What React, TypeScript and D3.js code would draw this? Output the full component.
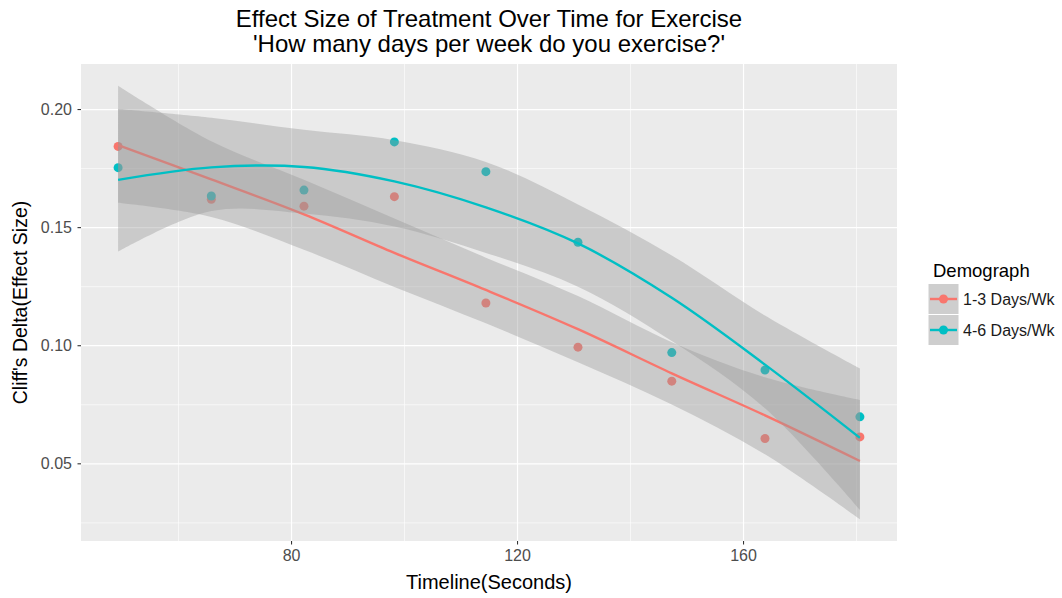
import React from 'react';
import * as d3 from 'd3';

// values
const timeline = [49.3, 65.8, 82.2, 98.2, 114.4, 130.7, 147.3, 163.8, 180.6];
const groups = ['1-3 Days/Wk', '4-6 Days/Wk'];
const groupColors = ['#F8766D', '#00BFC4'];

const pointsLow = [0.1844, 0.162, 0.1591, 0.1631, 0.1181, 0.0994, 0.085, 0.0607, 0.0614];
const pointsHigh = [0.1754, 0.1634, 0.1659, 0.1863, 0.1737, 0.1438, 0.0971, 0.0897, 0.0699];

const fitLow = [0.1849, 0.1704, 0.1556, 0.1393, 0.1236, 0.107, 0.0883, 0.0705, 0.0512];
const upperLow = [0.2101, 0.1866, 0.1703, 0.1539, 0.1373, 0.121, 0.1015, 0.0866, 0.077];
const lowerLow = [0.1605, 0.1545, 0.1406, 0.1249, 0.1095, 0.093, 0.0751, 0.054, 0.0265];

const fitHigh = [0.1702, 0.1755, 0.1757, 0.1696, 0.1586, 0.1433, 0.1203, 0.092, 0.061];
const upperHigh = [0.2002, 0.1965, 0.1914, 0.187, 0.1778, 0.1598, 0.1382, 0.1128, 0.0904];
const lowerHigh = [0.1398, 0.157, 0.156, 0.1505, 0.1393, 0.125, 0.102, 0.0735, 0.0305];

const xMajor = [80, 120, 160];
const xMinor = [60, 100, 140, 180];
const yMajor = [0.05, 0.1, 0.15, 0.2];
const yMinor = [0.025, 0.075, 0.125, 0.175];

const FONT = "'Liberation Sans', Arial, sans-serif";

const App = () => {
  const W = 1062;
  const H = 598;
  const panel = { left: 81, right: 897, top: 64, bottom: 541 };

  // ggplot style 5% expansion of the data range
  const [x0, x1] = d3.extent(timeline) as [number, number];
  const allY = [...pointsLow, ...pointsHigh, ...upperLow, ...lowerLow, ...upperHigh, ...lowerHigh];
  const [y0, y1] = d3.extent(allY) as [number, number];
  const xPad = (x1 - x0) * 0.05;
  const yPad = (y1 - y0) * 0.05;

  const x = d3.scaleLinear().domain([x0 - xPad, x1 + xPad]).range([panel.left, panel.right]);
  const y = d3.scaleLinear().domain([y0 - yPad, y1 + yPad]).range([panel.bottom, panel.top]);

  const series = [
    { name: groups[0], color: groupColors[0], pts: pointsLow, fit: fitLow, lo: lowerLow, hi: upperLow },
    { name: groups[1], color: groupColors[1], pts: pointsHigh, fit: fitHigh, lo: lowerHigh, hi: upperHigh },
  ];

  const smooth = d3.curveCatmullRom.alpha(0.5);
  const band = d3.area<number>()
    .x((_, i) => x(timeline[i]))
    .curve(smooth);
  const line = d3.line<number>()
    .x((_, i) => x(timeline[i]))
    .y((d) => y(d))
    .curve(smooth);

  const cx = (panel.left + panel.right) / 2;
  const cy = (panel.top + panel.bottom) / 2;

  return (
    <svg width={W} height={H} style={{ position: 'fixed', left: 0, top: 0, background: '#fff' }}
      fontFamily={FONT}>
      {/* title */}
      <text x={cx} y={18} textAnchor="middle" dominantBaseline="central" fontSize={24} fill="#000">
        Effect Size of Treatment Over Time for Exercise
      </text>
      <text x={cx} y={43} textAnchor="middle" dominantBaseline="central" fontSize={24} fill="#000">
        'How many days per week do you exercise?'
      </text>

      {/* panel */}
      <rect x={panel.left} y={panel.top} width={panel.right - panel.left} height={panel.bottom - panel.top}
        fill="#EBEBEB" />
      {yMinor.map((v) => (
        <line key={'ym' + v} x1={panel.left} x2={panel.right} y1={y(v)} y2={y(v)} stroke="#fff" strokeWidth={0.6} />
      ))}
      {xMinor.map((v) => (
        <line key={'xm' + v} y1={panel.top} y2={panel.bottom} x1={x(v)} x2={x(v)} stroke="#fff" strokeWidth={0.6} />
      ))}
      {yMajor.map((v) => (
        <line key={'yM' + v} x1={panel.left} x2={panel.right} y1={y(v)} y2={y(v)} stroke="#fff" strokeWidth={1.2} />
      ))}
      {xMajor.map((v) => (
        <line key={'xM' + v} y1={panel.top} y2={panel.bottom} x1={x(v)} x2={x(v)} stroke="#fff" strokeWidth={1.2} />
      ))}

      {/* points sit under the smooth layer, like ggplot draws them */}
      {series.map((s) =>
        s.pts.map((v, i) => (
          <circle key={s.name + i} cx={x(timeline[i])} cy={y(v)} r={4.5} fill={s.color} />
        ))
      )}

      {series.map((s) => (
        <g key={s.name}>
          <path d={band.y0((_, i) => y(s.lo[i])).y1((d) => y(d))(s.hi) || ''} fill="#999999" fillOpacity={0.4} />
          <path d={line(s.fit) || ''} fill="none" stroke={s.color} strokeWidth={2.4} />
        </g>
      ))}

      {/* axes */}
      {yMajor.map((v) => (
        <g key={'yt' + v}>
          <line x1={panel.left - 3.5} x2={panel.left} y1={y(v)} y2={y(v)} stroke="#333" strokeWidth={1.1} />
          <text x={panel.left - 9} y={y(v)} textAnchor="end" dominantBaseline="central" fontSize={16} fill="#4D4D4D">
            {v.toFixed(2)}
          </text>
        </g>
      ))}
      {xMajor.map((v) => (
        <g key={'xt' + v}>
          <line x1={x(v)} x2={x(v)} y1={panel.bottom} y2={panel.bottom + 3.5} stroke="#333" strokeWidth={1.1} />
          <text x={x(v)} y={555} textAnchor="middle" dominantBaseline="central" fontSize={16} fill="#4D4D4D">
            {v}
          </text>
        </g>
      ))}
      <text x={cx} y={582} textAnchor="middle" dominantBaseline="central" fontSize={20} fill="#000">
        Timeline(Seconds)
      </text>
      <text transform={`translate(20, ${cy}) rotate(-90)`} textAnchor="middle" dominantBaseline="central"
        fontSize={19.5} fill="#000">
        Cliff's Delta(Effect Size)
      </text>

      {/* legend */}
      <text x={933} y={270} dominantBaseline="central" fontSize={18.5} fill="#000">Demograph</text>
      {series.map((s, i) => {
        const ky = 283.5 + i * 31;
        return (
          <g key={'lg' + s.name}>
            <rect x={928} y={ky} width={31} height={31} fill="#CECECE" stroke="#fff" strokeWidth={1} />
            <line x1={930} x2={957} y1={ky + 15.5} y2={ky + 15.5} stroke={s.color} strokeWidth={2.4} />
            <circle cx={943.5} cy={ky + 15.5} r={4.5} fill={s.color} />
            <text x={963} y={ky + 15.5} dominantBaseline="central" fontSize={16} fill="#1A1A1A">{s.name}</text>
          </g>
        );
      })}
    </svg>
  );
};

export default App;
